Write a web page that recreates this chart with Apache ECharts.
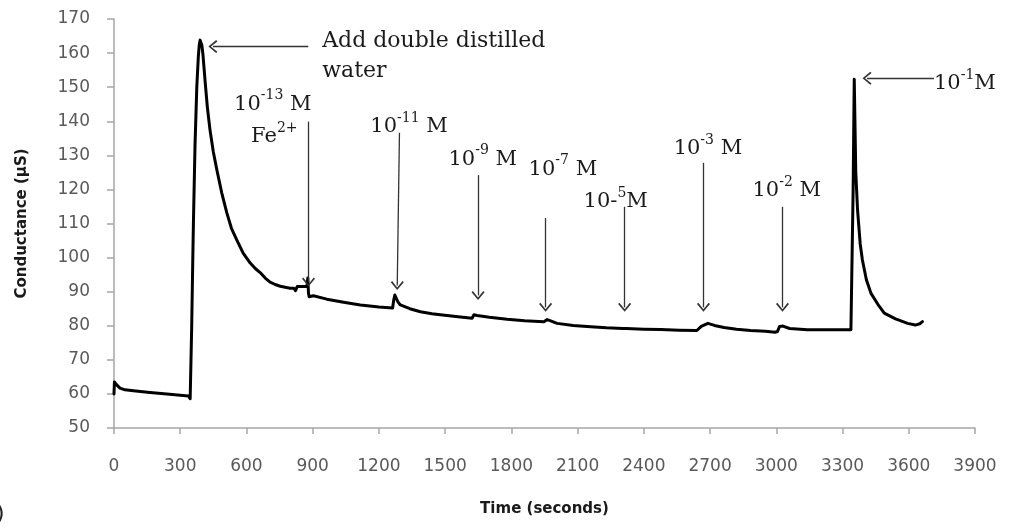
<!DOCTYPE html>
<html>
<head>
<meta charset="utf-8">
<script src="https://cdn.jsdelivr.net/npm/echarts@6/dist/echarts.min.js"></script>
<style>
html, body { margin: 0; padding: 0; background: #fff; }
#chart { width: 1013px; height: 529px; }
</style>
</head>
<body>
<div id="chart"></div>
<script>
// trace: time (s) / conductance (µS)
const times = [0, 2, 10, 27, 50, 88, 163, 239, 300, 337, 345, 348, 352, 357, 360, 367, 375, 382, 386, 390, 394, 398, 403, 408, 413, 423, 435, 450, 466, 488, 511, 532, 556, 585, 617, 640, 662, 685, 707, 730, 753, 798, 815, 822, 830, 874, 878, 881, 884, 903, 964, 1040, 1116, 1200, 1262, 1267, 1272, 1278, 1286, 1297, 1340, 1388, 1440, 1478, 1569, 1622, 1630, 1645, 1700, 1781, 1860, 1947, 1962, 1975, 2007, 2080, 2159, 2230, 2305, 2312, 2320, 2400, 2476, 2560, 2640, 2660, 2690, 2720, 2763, 2820, 2884, 2950, 2995, 3005, 3015, 3030, 3060, 3141, 3240, 3338, 3345, 3348, 3353, 3360, 3368, 3380, 3390, 3408, 3429, 3460, 3489, 3540, 3595, 3630, 3650, 3662];
const conductance = [60, 63.5, 62.8, 61.7, 61.2, 60.9, 60.4, 60, 59.6, 59.4, 58.6, 58.5, 80, 100, 111, 133, 150, 159, 162.3, 163.8, 163.6, 162.3, 159.5, 155.5, 151.5, 144, 137.4, 131, 125.7, 119, 113.1, 108.6, 105.2, 101.3, 98.4, 96.8, 95.6, 94, 92.8, 92.1, 91.6, 91, 91, 90.3, 91.5, 91.6, 94, 89.5, 88.5, 88.8, 87.8, 86.9, 86.1, 85.5, 85.2, 87.5, 89, 88.6, 87, 86.1, 85, 84.1, 83.5, 83.2, 82.6, 82.2, 83.2, 83, 82.5, 81.9, 81.5, 81.2, 81.8, 81.5, 80.7, 80.1, 79.7, 79.4, 79.2, 78.7, 79.2, 79, 78.9, 78.7, 78.6, 79.8, 80.7, 80.1, 79.5, 79, 78.6, 78.4, 78.1, 78.3, 79.8, 79.9, 79.2, 78.8, 78.8, 78.8, 79, 120, 152.3, 125, 114, 104, 99.3, 93.5, 89.5, 86.3, 83.7, 82, 80.7, 80.2, 80.6, 81.2];

// annotation texts and where their left edge / middle sits [time, µS]
const noteTexts = [
    '{w|Add double distilled}\n{w|water}',
    '{b|10}{s|-13}{b| M}',
    '{b|Fe}{s|2+}',
    '{b|10}{s|-11}{b| M}',
    '{b|10}{s|-9}{b| M}',
    '{b|10}{s|-7}{b| M}',
    '{b|10-}{s|5}{b|M}',
    '{b|10}{s|-3}{b| M}',
    '{b|10}{s|-2}{b| M}',
    '{b|10}{s|-1}{b|M}'
];
const noteAnchors = [
    [943, 159.0], [544, 145.7], [621, 136.3], [1161, 139.2], [1515, 129.6],
    [1878, 126.7], [2127, 117.2], [2535, 132.7], [2892, 120.3], [3714, 151.7]
];

// arrows: tail -> head [time, µS]
const arrowTails = [[880, 161.9], [881, 139.9], [1293, 136.6], [1649, 124.2], [1955, 111.6], [2313, 114.9], [2670, 127.8], [3028, 114.9], [3714, 152.6]];
const arrowHeads = [[448, 161.9], [881, 92.8], [1283, 91.8], [1649, 88.9], [1955, 85.4], [2313, 85.4], [2670, 85.4], [3028, 85.4], [3411, 152.6]];

const chart = echarts.init(document.getElementById('chart'));

const axisGray = '#a6a6a6';
const tickFont = { fontFamily: 'DejaVu Sans', fontSize: 17, color: '#595959' };
const titleFont = { fontFamily: 'DejaVu Sans', fontWeight: 'bold', fontSize: 15, color: '#1a1a1a' };
const chevron = 'path://M0,10 L10,0 L20,10 L18,11.6 L10,3.2 L2,11.6 Z';

const option = {
    animation: false,
    backgroundColor: '#fff',
    grid: { left: 114, right: 38, top: 19, bottom: 101 },
    xAxis: {
        type: 'value',
        min: 0,
        max: 3900,
        interval: 300,
        name: 'Time (seconds)',
        nameLocation: 'middle',
        nameGap: 74,
        nameTextStyle: titleFont,
        axisLine: { show: true, onZero: false, lineStyle: { color: axisGray, width: 1.5 } },
        axisTick: { show: true, length: 6, lineStyle: { color: axisGray, width: 1.5 } },
        axisLabel: Object.assign({ margin: 30, formatter: v => String(v) }, tickFont),
        splitLine: { show: false }
    },
    yAxis: {
        type: 'value',
        min: 50,
        max: 170,
        interval: 10,
        name: 'Conductance (µS)',
        nameLocation: 'middle',
        nameGap: 84,
        nameTextStyle: titleFont,
        axisLine: { show: true, onZero: false, lineStyle: { color: axisGray, width: 1.5 } },
        axisTick: { show: true, length: 7, lineStyle: { color: axisGray, width: 1.5 } },
        axisLabel: Object.assign({ margin: 24 }, tickFont),
        splitLine: { show: false }
    },
    graphic: [
        { type: 'text', left: -4, top: 503, style: { text: ')', font: '22px DejaVu Sans', fill: '#222' } }
    ],
    series: [
        {
            type: 'line',
            data: times.map((t, i) => [t, conductance[i]]),
            showSymbol: false,
            clip: false,
            lineStyle: { color: '#000', width: 3, join: 'round', cap: 'round' },
            markLine: {
                silent: true,
                symbol: ['none', chevron],
                symbolSize: [13, 9],
                lineStyle: { color: '#333', width: 1.3, type: 'solid' },
                label: { show: false },
                emphasis: { disabled: true },
                data: arrowTails.map((p, i) => [{ coord: p }, { coord: arrowHeads[i] }])
            },
            markPoint: {
                silent: true,
                symbol: 'circle',
                symbolSize: 0,
                itemStyle: { color: 'rgba(0,0,0,0)' },
                label: {
                    show: true,
                    position: [0, 0],
                    align: 'left',
                    verticalAlign: 'middle',
                    rich: {
                        w: { fontFamily: 'DejaVu Serif', fontSize: 22, lineHeight: 30, color: '#1a1a1a' },
                        b: { fontFamily: 'DejaVu Serif', fontSize: 21, lineHeight: 26, color: '#1a1a1a', verticalAlign: 'bottom' },
                        s: { fontFamily: 'DejaVu Serif', fontSize: 14, lineHeight: 14, color: '#1a1a1a', verticalAlign: 'top' }
                    }
                },
                data: noteAnchors.map((p, i) => ({
                    coord: p,
                    label: { formatter: noteTexts[i] }
                }))
            }
        }
    ]
};

chart.setOption(option);
</script>
</body>
</html>
